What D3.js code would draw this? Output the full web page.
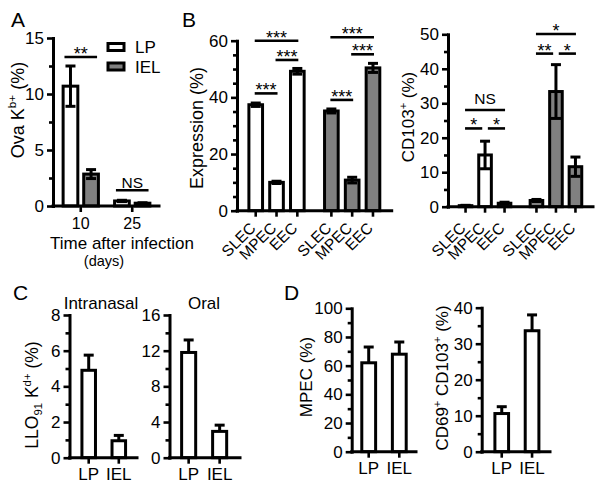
<!DOCTYPE html>
<html><head><meta charset="utf-8">
<script src="https://cdn.jsdelivr.net/npm/d3@7"></script>
<style>
body{margin:0;background:#fff}
svg text{font-family:"Liberation Sans",Arial,Helvetica,sans-serif;fill:#000}
</style>
</head><body>
<svg id="c" width="604" height="491"></svg>
<script>
// ---------------- DATA ----------------
// Panel A
const daysA = ["10", "25"];
const seriesA = ["LP", "IEL"];
const ovaLP = [10.7, 0.45];
const ovaLPerr = [1.8, 0.06];
const ovaIEL = [2.85, 0.25];
const ovaIELerr = [0.4, 0.04];
const ticksA = [0, 5, 10, 15];
const minorA = [2.5, 7.5, 12.5];
const sigA = [
  {g: "10", a: "LP", b: "IEL", y: 13.3, label: "**"},
  {g: "25", a: "LP", b: "IEL", y: 1.4, label: "NS"}
];
// Panel B
const groupsB = ["LP", "IEL"];
const subsets = ["SLEC", "MPEC", "EEC"];
const exprLP = [37.4, 10.0, 49.2];
const exprLPerr = [0.6, 0.4, 1.0];
const exprIEL = [35.2, 10.8, 50.4];
const exprIELerr = [0.7, 1.0, 1.6];
const ticksExpr = [0, 20, 40, 60];
const minorExpr = [5, 10, 15, 25, 30, 35, 45, 50, 55];
const sigExpr = [
  {g: "LP", a: "SLEC", b: "EEC", y: 60, label: "***"},
  {g: "LP", a: "MPEC", b: "EEC", y: 53.2, label: "***"},
  {g: "LP", a: "SLEC", b: "MPEC", y: 41.4, label: "***"},
  {g: "IEL", a: "SLEC", b: "EEC", y: 61.2, label: "***"},
  {g: "IEL", a: "MPEC", b: "EEC", y: 55.2, label: "***"},
  {g: "IEL", a: "SLEC", b: "MPEC", y: 39.1, label: "***"}
];
const cd103LP = [0.3, 15.0, 1.0];
const cd103LPerr = [0.1, 4.0, 0.3];
const cd103IEL = [1.8, 33.4, 11.6];
const cd103IELerr = [0.3, 7.8, 2.8];
const ticksCD103 = [0, 10, 20, 30, 40, 50];
const minorCD103 = [5, 15, 25, 35, 45];
const sigCD103 = [
  {g: "LP", a: "SLEC", b: "EEC", y: 28.05, label: "NS"},
  {g: "LP", a: "SLEC", b: "MPEC", y: 22.7, label: "*"},
  {g: "LP", a: "MPEC", b: "EEC", y: 22.7, label: "*"},
  {g: "IEL", a: "SLEC", b: "EEC", y: 50.1, label: "*"},
  {g: "IEL", a: "SLEC", b: "MPEC", y: 44.4, label: "**"},
  {g: "IEL", a: "MPEC", b: "EEC", y: 44.4, label: "*"}
];
// Panel C
const tissues = ["LP", "IEL"];
const lloIntranasal = [4.9, 0.95];
const lloIntranasalErr = [0.85, 0.3];
const ticksIntranasal = [0, 2, 4, 6, 8];
const minorIntranasal = [1, 3, 5, 7];
const lloOral = [11.8, 2.95];
const lloOralErr = [1.4, 0.7];
const ticksOral = [0, 4, 8, 12, 16];
const minorOral = [2, 6, 10, 14];
// Panel D
const mpec = [62, 68];
const mpecErr = [11, 8.5];
const ticksMpec = [0, 20, 40, 60, 80, 100];
const minorMpec = [10, 30, 50, 70, 90];
const cd69cd103 = [10.6, 33.6];
const cd69cd103Err = [1.9, 4.4];
const ticksCd69 = [0, 10, 20, 30, 40];
const minorCd69 = [5, 15, 25, 35];

// ---------------- DRAWING ----------------
const svg = d3.select("#c");
const SW = 3, TW = 2.6, GRAY = "#808080", CAP = 5;

function yAxis(y, x0, majors, minors, fs) {
  const mi = svg.append("g").attr("transform", `translate(${x0},0)`)
    .call(d3.axisLeft(y).tickValues(minors).tickSize(4).tickFormat(""));
  mi.select(".domain").remove();
  mi.selectAll("line").attr("stroke-width", TW);
  const ma = svg.append("g").attr("transform", `translate(${x0},0)`)
    .call(d3.axisLeft(y).tickValues(majors).tickSize(6).tickSizeOuter(0).tickPadding(3));
  ma.select(".domain").attr("stroke-width", SW).attr("stroke-linecap", "square");
  ma.selectAll("line").attr("stroke-width", TW);
  ma.selectAll("text").attr("font-size", fs).attr("font-family", null).attr("fill", "#000");
  ma.attr("font-family", null);
}

function xAxis(x0, x1, yb, ticks) {
  svg.append("line").attr("x1", x0).attr("x2", x1).attr("y1", yb).attr("y2", yb)
    .attr("stroke", "#000").attr("stroke-width", SW).attr("stroke-linecap", "square");
  svg.append("g").selectAll("line").data(ticks).join("line")
    .attr("x1", d => d).attr("x2", d => d).attr("y1", yb).attr("y2", yb + 6)
    .attr("stroke", "#000").attr("stroke-width", TW);
}

function drawBars(items, y, twoSided) {
  const g = svg.append("g");
  g.selectAll("rect").data(items).join("rect")
    .attr("x", d => d.x + SW / 2).attr("y", d => y(d.v))
    .attr("width", d => d.w - SW).attr("height", d => y(0) - y(d.v))
    .attr("fill", d => d.fill).attr("stroke", "#000").attr("stroke-width", SW);
  const e = svg.append("g").attr("stroke", "#000").attr("stroke-width", SW);
  items.forEach(d => {
    const cx = d.x + d.w / 2;
    const top = y(d.v + d.e);
    const bot = twoSided ? y(Math.max(0, d.v - d.e)) : y(d.v);
    e.append("line").attr("x1", cx).attr("x2", cx).attr("y1", top).attr("y2", bot);
    e.append("line").attr("x1", cx - CAP).attr("x2", cx + CAP).attr("y1", top).attr("y2", top);
    if (twoSided) e.append("line").attr("x1", cx - CAP).attr("x2", cx + CAP).attr("y1", bot).attr("y2", bot);
  });
}

function drawSig(list, xc, y, ext, gap, nsGap) {
  const g = svg.append("g");
  list.forEach(s => {
    let xa = xc(s.g, s.a) - ext, xb = xc(s.g, s.b) + ext;
    if (list.some(o => o !== s && o.g === s.g && o.y === s.y && o.b === s.a)) xa += gap;
    if (list.some(o => o !== s && o.g === s.g && o.y === s.y && o.a === s.b)) xb -= gap;
    const yy = y(s.y);
    g.append("line").attr("x1", xa).attr("x2", xb).attr("y1", yy).attr("y2", yy)
      .attr("stroke", "#000").attr("stroke-width", TW);
    const star = s.label.startsWith("*");
    g.append("text").attr("x", (xa + xb) / 2).attr("y", star ? yy + 3 : yy - nsGap)
      .attr("text-anchor", "middle").attr("font-size", star ? 18 : 15.5).text(s.label);
  });
}

function vTitle(x, y, parts, fs) {
  const t = svg.append("text").attr("transform", `translate(${x},${y}) rotate(-90)`)
    .attr("text-anchor", "middle").attr("font-size", fs);
  let shift = 0;
  parts.forEach(p => {
    const ts = t.append("tspan").text(p.t);
    const target = p.sup ? -0.42 * fs : p.sub ? 0.25 * fs : 0;
    if (target !== shift) { ts.attr("dy", target - shift); shift = target; }
    if (p.sup || p.sub) ts.attr("font-size", fs * 0.65);
  });
}

function label(x, y, txt, fs, anchor) {
  svg.append("text").attr("x", x).attr("y", y).attr("font-size", fs)
    .attr("text-anchor", anchor || "start").text(txt);
}

const TF = 17; // tick label font size

// ---- Panel A ----
{
  const y = d3.scaleLinear().domain([0, 15]).range([206, 38]);
  const xo = d3.scaleBand().domain(daysA).range([54, 159]).paddingInner(0.2).paddingOuter(0.12);
  const xi = d3.scaleBand().domain(seriesA).range([0, xo.bandwidth()]).paddingInner(0.14).paddingOuter(0.07);
  const items = [];
  daysA.forEach((d, i) => {
    items.push({x: xo(d) + xi("LP"), w: xi.bandwidth(), v: ovaLP[i], e: ovaLPerr[i], fill: "#fff"});
    items.push({x: xo(d) + xi("IEL"), w: xi.bandwidth(), v: ovaIEL[i], e: ovaIELerr[i], fill: GRAY});
  });
  drawBars(items, y, true);
  yAxis(y, 53, ticksA, minorA, TF);
  xAxis(53, 159, y(0), daysA.map(d => xo(d) + xo.bandwidth() / 2));
  daysA.forEach(d => label(xo(d) + xo.bandwidth() / 2, 228.5, d, 16, "middle"));
  label(122, 248.5, "Time after infection", 17, "middle");
  label(104, 265.5, "(days)", 14.5, "middle");
  drawSig(sigA, (g, c) => xo(g) + xi(c) + xi.bandwidth() / 2, y, 6, 0, 2.5);
  vTitle(24, 110, [{t: "Ova K"}, {t: "b+", sup: true}, {t: " (%)"}], 18);
  // legend
  const lg = svg.append("g");
  seriesA.forEach((s, i) => {
    lg.append("rect").attr("x", 108).attr("y", 43.5 + i * 19.5).attr("width", 16).attr("height", 7)
      .attr("fill", s === "LP" ? "#fff" : GRAY).attr("stroke", "#000").attr("stroke-width", SW);
    label(135, 53 + i * 19.5, s, 17);
  });
  label(11, 27, "A", 21);
}

// ---- Panel B ----
function panelB(x0, x1, y, vLP, eLP, vIEL, eIEL, majors, minors, sig, titleParts, tx, ty, tfs, ext, gap) {
  const xo = d3.scaleBand().domain(groupsB).range([x0, x1]).paddingInner(0.175).paddingOuter(0.11);
  const xi = d3.scaleBand().domain(subsets).range([0, xo.bandwidth()]).paddingInner(0.2).paddingOuter(0.1);
  const items = [];
  subsets.forEach((s, i) => items.push({x: xo("LP") + xi(s), w: xi.bandwidth(), v: vLP[i], e: eLP[i], fill: "#fff"}));
  subsets.forEach((s, i) => items.push({x: xo("IEL") + xi(s), w: xi.bandwidth(), v: vIEL[i], e: eIEL[i], fill: GRAY}));
  drawBars(items, y, true);
  yAxis(y, x0, majors, minors, TF);
  const centers = items.map(d => d.x + d.w / 2);
  xAxis(x0, x1, y(0), centers);
  const cats = groupsB.flatMap(() => subsets);
  svg.append("g").selectAll("text").data(cats).join("text")
    .attr("transform", (d, i) => `translate(${centers[i] + 1},229) rotate(-45)`)
    .attr("text-anchor", "end").attr("font-size", 15.5).text(d => d);
  drawSig(sig, (g, c) => xo(g) + xi(c) + xi.bandwidth() / 2, y, ext, gap, 6);
  vTitle(tx, ty, titleParts, tfs);
}
panelB(237, 391.7, d3.scaleLinear().domain([0, 60]).range([210.7, 40.7]),
  exprLP, exprLPerr, exprIEL, exprIELerr, ticksExpr, minorExpr, sigExpr,
  [{t: "Expression (%)"}], 203, 128, 18, 1, 3.3);
panelB(448, 593, d3.scaleLinear().domain([0, 50]).range([206.7, 34.3]),
  cd103LP, cd103LPerr, cd103IEL, cd103IELerr, ticksCD103, minorCD103, sigCD103,
  [{t: "CD103"}, {t: "+", sup: true}, {t: " (%)"}], 414, 117, 17, 0.5, 3.3);
label(182, 27, "B", 21);

// ---- Panels C, D ----
function simplePanel(axX, endX, r0, r1, yr, vals, errs, majors, minors) {
  const y = d3.scaleLinear().domain([0, majors[majors.length - 1]]).range(yr);
  const x = d3.scaleBand().domain(tissues).range([r0, r1]).paddingInner(0.45).paddingOuter(0.33);
  const items = tissues.map((t, i) => ({x: x(t), w: x.bandwidth(), v: vals[i], e: errs[i], fill: "#fff"}));
  drawBars(items, y, false);
  yAxis(y, axX, majors, minors, TF);
  xAxis(axX, endX, y(0), tissues.map(t => x(t) + x.bandwidth() / 2));
  return {x, y};
}
{
  const a = simplePanel(69.5, 137, 70.5, 137, [457.7, 315], lloIntranasal, lloIntranasalErr, ticksIntranasal, minorIntranasal);
  tissues.forEach(t => label(a.x(t) + a.x.bandwidth() / 2, 480, t, TF, "middle"));
  const b = simplePanel(169.5, 240, 169.9, 238.4, [457.7, 315], lloOral, lloOralErr, ticksOral, minorOral);
  tissues.forEach(t => label(b.x(t) + b.x.bandwidth() / 2, 480, t, TF, "middle"));
  label(101, 309, "Intranasal", 17, "middle");
  label(204, 309, "Oral", 17, "middle");
  vTitle(38, 395, [{t: "LLO"}, {t: "91", sub: true}, {t: " K"}, {t: "d+", sup: true}, {t: " (%)"}], 17.5);
  label(13, 300, "C", 21);

  const c = simplePanel(351.7, 416, 350.2, 417.8, [451.7, 308.3], mpec, mpecErr, ticksMpec, minorMpec);
  tissues.forEach(t => label(c.x(t) + c.x.bandwidth() / 2, 473.5, t, TF, "middle"));
  const d = simplePanel(481.7, 550, 483.4, 550.4, [451.7, 307.7], cd69cd103, cd69cd103Err, ticksCd69, minorCd69);
  tissues.forEach(t => label(d.x(t) + d.x.bandwidth() / 2, 473.5, t, TF, "middle"));
  vTitle(312, 377, [{t: "MPEC (%)"}], 17);
  vTitle(448, 378, [{t: "CD69"}, {t: "+", sup: true}, {t: " CD103"}, {t: "+", sup: true}, {t: " (%)"}], 17);
  label(284, 300, "D", 21);
}
</script>
</body></html>
